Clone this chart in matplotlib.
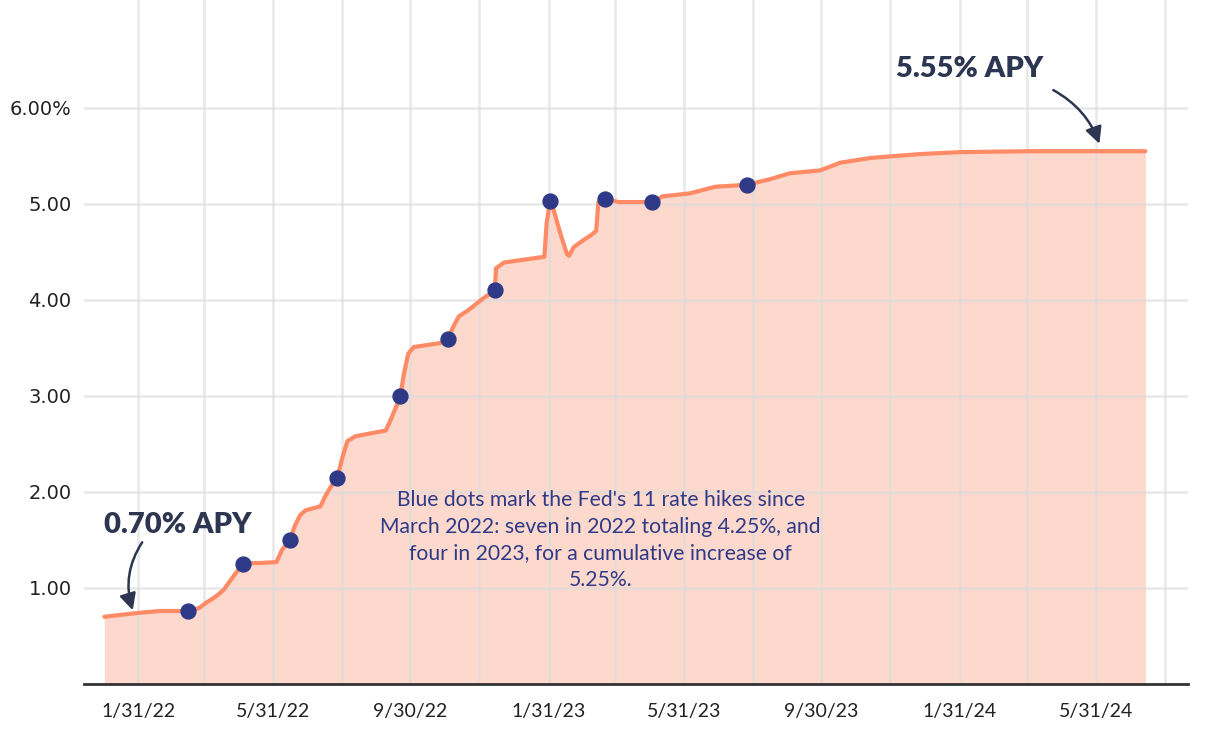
import pandas as pd
import matplotlib
matplotlib.use("Agg")
import matplotlib.pyplot as plt

# datos
fechas = ["2022-01-01", "2022-01-31", "2022-02-19", "2022-03-16", "2022-03-26", "2022-04-02",
          "2022-04-10", "2022-04-17", "2022-04-25", "2022-05-02", "2022-05-04", "2022-05-10",
          "2022-05-20", "2022-06-03", "2022-06-08", "2022-06-15", "2022-06-19", "2022-06-24",
          "2022-06-29", "2022-07-12", "2022-07-16", "2022-07-21", "2022-07-27", "2022-08-01",
          "2022-08-05", "2022-08-12", "2022-09-08", "2022-09-12", "2022-09-17", "2022-09-21",
          "2022-09-24", "2022-09-28", "2022-10-03", "2022-10-26", "2022-11-02", "2022-11-07",
          "2022-11-12", "2022-11-20", "2022-12-04", "2022-12-14", "2022-12-15", "2022-12-22",
          "2023-01-27", "2023-01-29", "2023-02-01", "2023-02-04", "2023-02-10", "2023-02-16",
          "2023-02-18", "2023-02-22", "2023-03-01", "2023-03-10", "2023-03-14", "2023-03-16",
          "2023-03-22", "2023-04-03", "2023-05-03", "2023-05-12", "2023-06-05", "2023-06-28",
          "2023-07-26", "2023-08-16", "2023-09-02", "2023-09-29", "2023-10-17", "2023-11-13",
          "2023-12-27", "2024-01-31", "2024-04-03", "2024-07-14"]
apy = [0.70, 0.74, 0.76, 0.76, 0.79, 0.85,
       0.91, 0.98, 1.11, 1.22, 1.25, 1.26,
       1.26, 1.27, 1.40, 1.50, 1.64, 1.76,
       1.81, 1.85, 1.95, 2.05, 2.15, 2.38,
       2.53, 2.58, 2.64, 2.74, 2.88, 3.00,
       3.22, 3.44, 3.51, 3.55, 3.59, 3.72,
       3.83, 3.89, 4.02, 4.10, 4.33, 4.39,
       4.45, 4.80, 5.03, 4.95, 4.70, 4.48,
       4.46, 4.55, 4.61, 4.68, 4.72, 5.02,
       5.05, 5.02, 5.02, 5.08, 5.11, 5.18,
       5.20, 5.26, 5.32, 5.35, 5.43, 5.48,
       5.52, 5.54, 5.55, 5.55]

# alzas de la Fed (puntos azules)
fechas_fed = ["2022-03-16", "2022-05-04", "2022-06-15", "2022-07-27", "2022-09-21", "2022-11-02",
              "2022-12-14", "2023-02-01", "2023-03-22", "2023-05-03", "2023-07-26"]
apy_fed = [0.76, 1.25, 1.50, 2.15, 3.00, 3.59, 4.10, 5.03, 5.05, 5.02, 5.20]

y_ticks = [1, 2, 3, 4, 5, 6]
y_labels = ["1.00", "2.00", "3.00", "4.00", "5.00", "6.00%"]
x_grid = pd.date_range("2022-01-31", "2024-07-31", freq="2ME")
x_labels = ["1/31/22", "", "5/31/22", "", "9/30/22", "", "1/31/23", "", "5/31/23", "",
            "9/30/23", "", "1/31/24", "", "5/31/24", ""]

df = pd.DataFrame({"fecha": pd.to_datetime(fechas), "apy": apy})
fed = pd.DataFrame({"fecha": pd.to_datetime(fechas_fed), "apy": apy_fed})

naranja = "#ff8a66"
relleno = "#fdd8cd"
azul = "#2e3a87"
oscuro = "#2d3650"

fig = plt.figure(figsize=(12.2, 7.36), dpi=100)
ax = fig.add_axes([0.0689, 0.0707, 0.905, 0.9293])

ax.fill_between(df["fecha"], 0, df["apy"], color=relleno, zorder=0.3, linewidth=0)
ax.plot(df["fecha"], df["apy"], color=naranja, linewidth=3, zorder=2,
        solid_capstyle="round", solid_joinstyle="round")
ax.scatter(fed["fecha"], fed["apy"], s=115, color=azul, zorder=3)

ax.set_xlim(pd.Timestamp("2021-12-14"), pd.Timestamp("2024-08-21"))
ax.set_ylim(0, 7.125)

ax.set_yticks(y_ticks)
ax.set_yticklabels(y_labels, fontsize=14, family="DejaVu Sans", color="#222222")
ax.set_xticks(x_grid)
ax.set_xticklabels(x_labels, fontsize=14, family="Lato", color="#222222")
ax.tick_params(length=0)
ax.tick_params(axis="x", pad=14)
ax.tick_params(axis="y", pad=9)

ax.set_axisbelow(True)
ax.grid(True, color="#dcdcdc", alpha=0.65, linewidth=1.8)

for lado in ["top", "right", "left"]:
    ax.spines[lado].set_visible(False)
ax.spines["bottom"].set_color("#333333")
ax.spines["bottom"].set_linewidth(2)

ax.text(pd.Timestamp("2023-03-18"), 2.02,
        "Blue dots mark the Fed's 11 rate hikes since\nMarch 2022: seven in 2022 totaling 4.25%, and\n"
        "four in 2023, for a cumulative increase of\n5.25%.",
        ha="center", va="top", fontsize=15.2, family="Lato", color=azul, linespacing=1.42)

ax.annotate("", xy=(pd.Timestamp("2022-01-27"), 0.74), xytext=(pd.Timestamp("2022-02-05"), 1.5),
            arrowprops=dict(arrowstyle="-|>,head_length=1.0,head_width=0.5", color=oscuro,
                            lw=1.8, connectionstyle="arc3,rad=0.25"))
ax.text(pd.Timestamp("2022-01-01"), 1.66, "0.70% APY", fontsize=21, fontweight="heavy",
        family="Lato", color=oscuro, ha="left", va="center")

ax.annotate("", xy=(pd.Timestamp("2024-06-04"), 5.6), xytext=(pd.Timestamp("2024-04-21"), 6.2),
            arrowprops=dict(arrowstyle="-|>,head_length=1.0,head_width=0.5", color=oscuro,
                            lw=1.8, connectionstyle="arc3,rad=-0.2"))
ax.text(pd.Timestamp("2023-12-05"), 6.41, "5.55% APY", fontsize=21, fontweight="heavy",
        family="Lato", color=oscuro, ha="left", va="center")

plt.savefig("out.png", dpi=100)
